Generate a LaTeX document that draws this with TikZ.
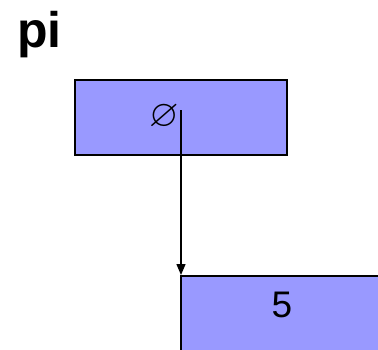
\documentclass[tikz,border=0pt]{standalone}
\usepackage{fontspec}
\usepackage{amssymb}
\setmainfont{Liberation Sans}
\usetikzlibrary{arrows.meta}
\definecolor{boxblue}{HTML}{9999FF}
\tikzset{
  cell/.style={draw=black, fill=boxblue, line width=1.6pt, rectangle, inner sep=0pt, anchor=north west},
  ptr/.style={line width=1.4pt, -{Triangle[length=11pt,width=9pt]}},
}
\begin{document}
\begin{tikzpicture}[x=1pt,y=-1pt]
\useasboundingbox (0,0) rectangle (378,349);
\clip (0,0) rectangle (378,349);
\node[anchor=base west, inner sep=0pt, font=\fontsize{50}{50}\selectfont\bfseries] (title) at (17,47) {pi};
\node[cell, minimum width=212pt, minimum height=75pt] (b1) at (74,79) {};
\node[inner sep=0pt, font=\fontsize{38}{38}\selectfont] (nul) at (164,117) {$\varnothing$};
\node[cell, minimum width=230pt, minimum height=100pt] (b2) at (180,275) {};
\node[inner sep=0pt, font=\fontsize{37}{37}\selectfont] (five) at (282,305) {5};
\coordinate (s) at (181,110);
\draw[ptr] (s) -- (s |- b2.north);
\end{tikzpicture}
\end{document}
